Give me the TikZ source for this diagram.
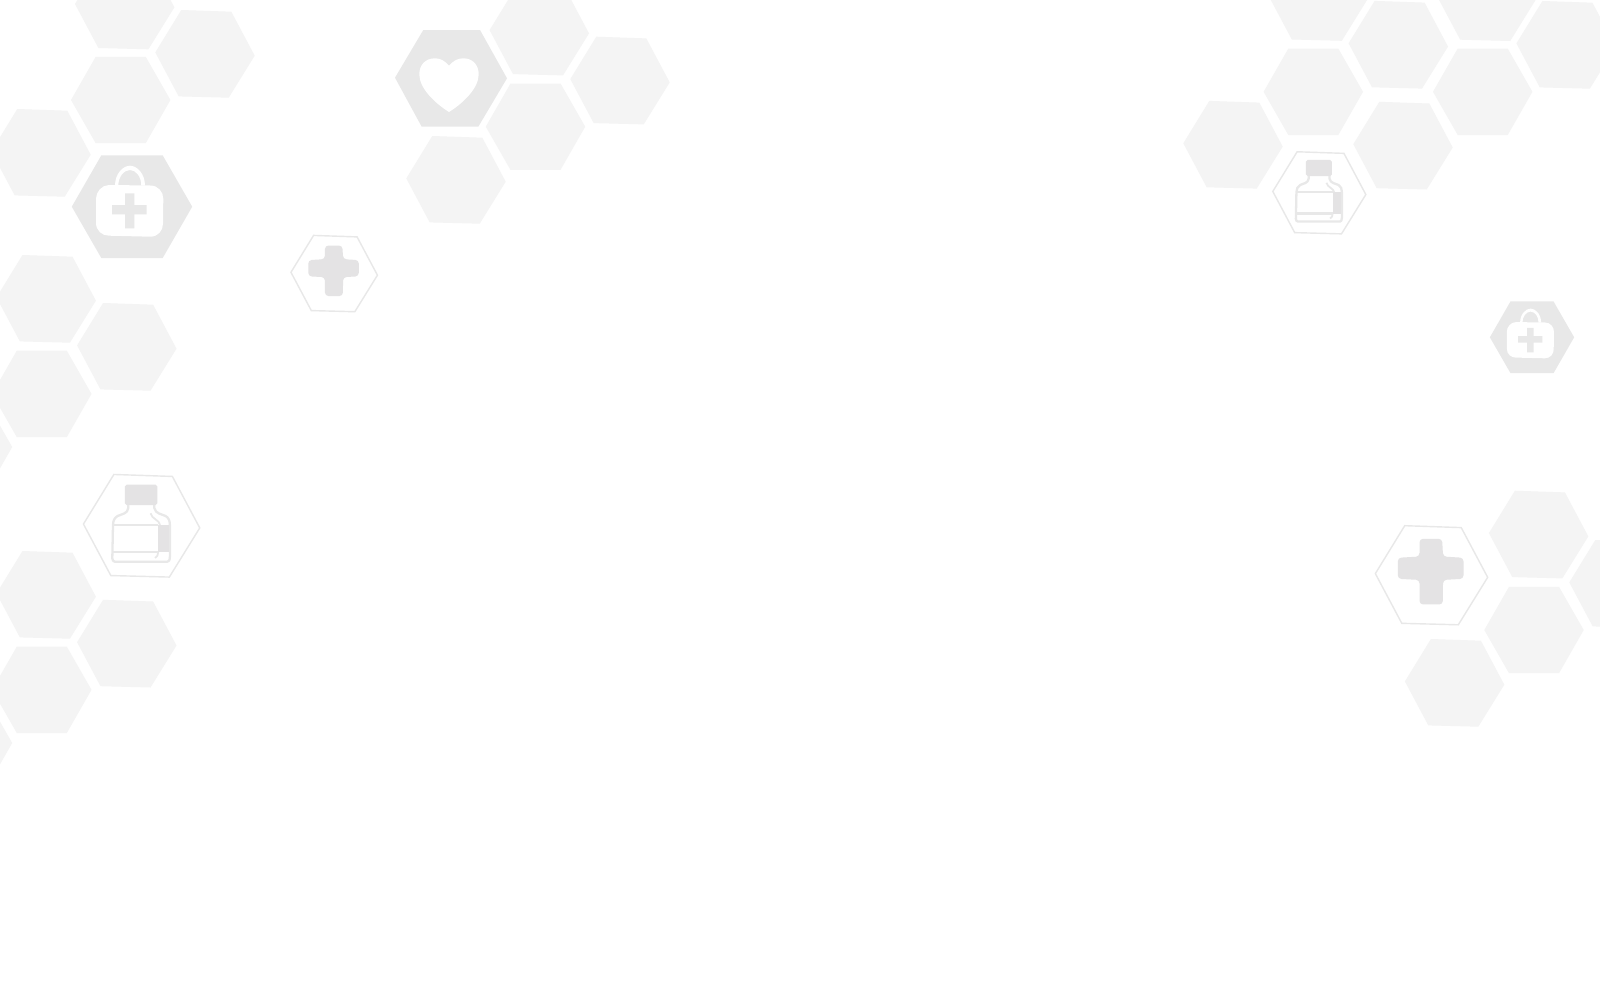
\documentclass[tikz,border=0pt]{standalone}
\definecolor{HexClr}{RGB}{244,244,244}
\definecolor{DarkClr}{RGB}{232,232,232}
\definecolor{IconClr}{RGB}{228,227,228}
\newcommand{\SkewPath}{(-23.7,-43.2) -- (26.3,-41.5) -- (49.7,2.5) -- (23.7,44.5) -- (-26.3,43.2) -- (-49.7,-.8) -- cycle}
\tikzset{
  skewhex/.pic={\fill[HexClr] \SkewPath;},
  flathex/.pic={\fill[HexClr] (-25,-43.2) -- (25,-43.2) -- (49.7,0) -- (25,43.2) -- (-25,43.2) -- (-49.7,0) -- cycle;},
  % the cross, measured for a hexagon of scale 1
  crosshex/.pic={
    \draw[DarkClr,line width=.4pt] \SkewPath;
    \fill[IconClr,rounded corners=1pt] (-10.6,-31.6) -- (9.4,-31.6) -- (10.2,-15.9) -- (28.3,-14.8) -- (28.3,3.8) -- (10.2,4.8) -- (10,26.5) -- (-10.6,26.5) -- (-10.6,4.8) -- (-29.8,3.8) -- (-29.8,-14.8) -- (-10.6,-15.9) -- cycle;
  },
  % the bag, measured on the hexagon at the left
  baghex/.pic={
    \fill[DarkClr] (-30.7,-51.3) -- (30.7,-51.3) -- (60.2,0) -- (30.7,51.3) -- (-30.7,51.3) -- (-60.2,0) -- cycle;
    \fill[white,even odd rule] (-17,-21) .. controls (-17,-33) and (-9,-41) .. (-2,-41) .. controls (5,-41) and (13,-33) .. (13,-21) -- (9.3,-21) .. controls (9.3,-30) and (4,-36.7) .. (-2,-36.7) .. controls (-8,-36.7) and (-13.7,-30) .. (-13.7,-21) -- cycle;
    \fill[white] (-23,-21.7) -- (18.3,-21.2) .. controls (26,-21.2) and (31.3,-15) .. (31.3,-8) -- (31,17) .. controls (31,24) and (26,30) .. (18.3,30) -- (-23,29) .. controls (-30,29) and (-36,24) .. (-36,16) -- (-36,-8) .. controls (-36,-15) and (-30,-21.7) .. (-23,-21.7) -- cycle;
    \fill[DarkClr] (-7,-13.4) -- (2.3,-13.4) -- (2.3,-1.7) -- (14.7,-1.7) -- (14.7,7.6) -- (2.3,7.6) -- (2.3,21.6) -- (-7,21.6) -- (-7,7.6) -- (-20,7.6) -- (-20,-1.7) -- (-7,-1.7) -- cycle;
  },
  % the bottle, measured for a hexagon of scale 1.17
  bottlehex/.pic={
    \draw[DarkClr,line width=.4pt,scale=1.17] \SkewPath;
    \fill[IconClr,rounded corners=.5pt] (-16.7,-40.3) rectangle (15.7,-20);
    \fill[IconClr] (16.7,0) rectangle (28.3,26.7);
    \draw[DarkClr,line width=.65pt,line join=round] (-13.3,-20) -- (-13.3,-17) .. controls (-14,-11) and (-20,-11) .. (-24,-9) .. controls (-27,-7.5) and (-28.6,-4) .. (-28.6,0) -- (-29.3,33.3) .. controls (-29.3,35.5) and (-28,36.7) .. (-26.7,36.7) -- (25.7,36.7) .. controls (27,36.7) and (28.3,35.5) .. (28.3,31.7) -- (28.3,0) .. controls (28.3,-4) and (27,-7.5) .. (24,-9) .. controls (20,-11) and (14,-11) .. (12.7,-17) -- (12.7,-20);
    \draw[DarkClr,line width=.65pt] (-28.3,0) -- (16.7,0) (-29,26.7) -- (16.7,26.7);
    \draw[DarkClr,line width=.5pt] (9,-11.7) .. controls (10,-6) and (18,-5) .. (18.5,0) (16.7,26.7) .. controls (16.5,30) and (15.5,32) .. (13.5,33);
  }
}

\begin{document}
\begin{tikzpicture}[x=.01cm,y=-.01cm]
\useasboundingbox (0,0) rectangle (1600,1000);
\clip (0,0) rectangle (1600,1000);
\fill[white] (0,0) rectangle (1600,1000);

% Left group.
\pic at (124.7,4.8) {skewhex};
\pic at (205,53.2) {skewhex};
\pic at (120.7,100) {flathex};
\pic at (41,152.2) {skewhex};
\pic at (132,206.7) {baghex};
\pic at (46.2,298.2) {skewhex};
\pic at (126.8,346.2) {skewhex};
\pic at (41.8,393.9) {flathex};
\pic at (-37.5,447) {flathex};
\pic at (141.6,525) {bottlehex};
\pic at (46.2,594.2) {skewhex};
\pic at (126.8,643) {skewhex};
\pic at (41.8,689.8) {flathex};
\pic at (-37.5,743) {flathex};
\pic[scale=.87] at (334.2,273) {crosshex};

% Middle group, with the heart.
\fill[DarkClr] (423.3,30) -- (480,30) -- (507,78.3) -- (478.3,126.7) -- (421.7,126.7) -- (395,77.7) -- cycle;
\fill[white] (449,65.6) .. controls (445,61.3) and (441,58.3) .. (435,58.3) .. controls (425,58.3) and (419.3,65.3) .. (419.3,74.3) .. controls (419.3,88.3) and (435,103.3) .. (449,112) .. controls (463,103.3) and (478.7,88.3) .. (478.7,74.3) .. controls (478.7,65.3) and (473,58.3) .. (463.3,58.3) .. controls (457,58.3) and (453,61.3) .. (449,65.6) -- cycle;
\pic at (539.3,30.9) {skewhex};
\pic at (620,79.9) {skewhex};
\pic at (535.5,126.7) {flathex};
\pic at (456,179.2) {skewhex};

% Top right group.
\pic at (1318.1,-3.7) {skewhex};
\pic at (1398.3,44.1) {skewhex};
\pic at (1486.5,-3.5) {skewhex};
\pic at (1566.1,44.2) {skewhex};
\pic at (1313.3,91.8) {flathex};
\pic at (1482.7,91.8) {flathex};
\pic at (1233,144.1) {skewhex};
\pic at (1403,145) {skewhex};
\pic[scale=.8] at (1319.3,192.2) {bottlehex};
\pic[scale=.7] at (1532,337.3) {baghex};

% Lower right group.
\pic at (1538.6,533.9) {skewhex};
\pic at (1619,583.2) {skewhex};
\pic at (1534,630) {flathex};
\pic at (1454.6,682.2) {skewhex};
\pic[scale=1.13] at (1431.5,574.5) {crosshex};

\end{tikzpicture}
\end{document}
